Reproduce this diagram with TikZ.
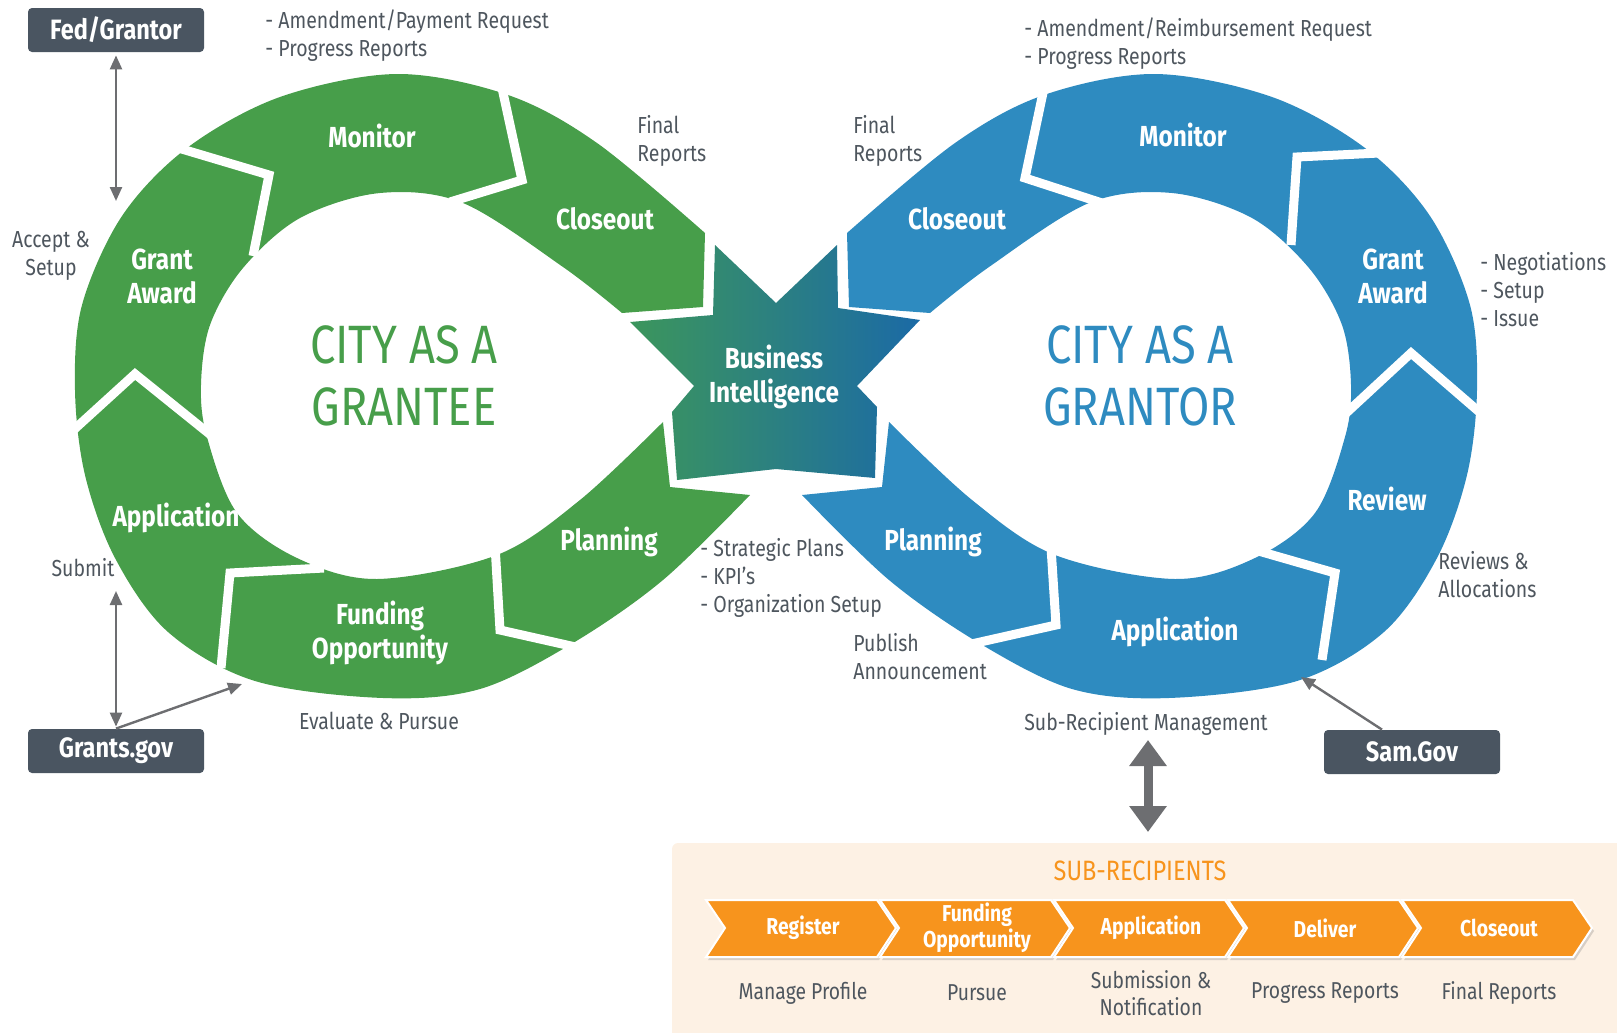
\documentclass[tikz,border=0pt]{standalone}
\usepackage{fontspec}
\setmainfont[FakeStretch=0.84]{Fira Sans}
\usetikzlibrary{arrows.meta,shadows}

\definecolor{grantee}{RGB}{71,158,74}
\definecolor{grantor}{RGB}{46,139,192}
\definecolor{bigreen}{RGB}{60,150,92}
\definecolor{biblue}{RGB}{27,106,166}
\definecolor{slate}{RGB}{74,85,97}
\definecolor{notegray}{RGB}{78,86,94}
\definecolor{arrowgray}{RGB}{109,110,113}
\definecolor{suborange}{RGB}{247,148,29}
\definecolor{subpanel}{RGB}{253,241,228}

\tikzset{
    seg/.style={text=white, font=\bfseries\fontsize{14.5}{17}\selectfont, align=center, inner sep=0},
    city/.style={font=\fontsize{27}{31}\selectfont, align=center, inner sep=0},
    note/.style={text=notegray, font=\fontsize{11.6}{14}\selectfont, align=left, inner sep=0},
    sep/.style={draw=white, line width=4.5pt},
    portal/.style={fill=slate, rounded corners=2pt, text=white, inner sep=0,
        font=\bfseries\fontsize{14}{16}\selectfont, minimum width=88pt, minimum height=22pt},
    link/.style={draw=arrowgray, line width=1.2pt, >={Triangle[width=6pt,length=7pt]}},
    bigarrow/.style={draw=arrowgray, line width=4.5pt, >={Triangle[width=18pt,length=13pt]}},
    chevron/.style={fill=suborange, draw=white, line width=1pt,
        drop shadow={opacity=0.3, shadow xshift=1pt, shadow yshift=-1.5pt}},
    chevlbl/.style={text=white, font=\bfseries\fontsize{11.5}{9.5}\selectfont, align=center, inner sep=0},
    sublbl/.style={text=notegray, font=\fontsize{11.5}{13.5}\selectfont, align=center, inner sep=0},
}

\newcommand{\loopband}{plot[smooth, tension=.55] coordinates {(705,233) (597,143) (508,95)
    (397,74) (280,97) (187,148) (122,216) (82,305) (75,390) (85,475) (115,558) (168,632)
    (255,681) (383,698) (480,689) (573,643) (663,580) (750,495)}
    -- (670,487) -- (663,422)
    -- plot[smooth, tension=.55] coordinates {(663,422) (580,500) (497,555) (377,579) (297,558)
    (237,513) (207,437) (201,385) (210,325) (243,268) (300,218) (380,193) (463,203) (563,267)
    (622,313)}
    -- (703,307) -- cycle}

\begin{document}
\begin{tikzpicture}[x=0.5pt, y=-0.5pt]
    \useasboundingbox (0,0) rectangle (1617,1033);

    \fill[grantee] \loopband;
    \begin{scope}[shift={(1552,0)}, xscale=-1]
        \fill[grantor] \loopband;
    \end{scope}

    \draw[sep] (175,147) -- (269,175) -- (253,256);
    \draw[sep] (502,88) -- (522,180) -- (450,202);
    \draw[sep] (68,435) -- (135,374) -- (212,436);
    \draw[sep] (221,668) -- (230,573) -- (324,568);
    \draw[sep] (495,545) -- (500,630) -- (580,648);

    \draw[sep] (1044,88) -- (1025,178) -- (1102,203);
    \draw[sep] (1400,152) -- (1297,157) -- (1291,245);
    \draw[sep] (1343,416) -- (1411,353) -- (1484,416);
    \draw[sep] (1255,550) -- (1335,573) -- (1322,660);
    \draw[sep] (1051,547) -- (1056,625) -- (967,645);

    \shade[left color=bigreen, right color=biblue] (715,245) -- (776,303) -- (837,245) -- (838,308)
        -- (920,320) -- (857,386) -- (877,407) -- (875,478) -- (776,469) -- (677,480) -- (672,412)
        -- (694,386) -- (630,322) -- (713,315) -- cycle;
    \node[seg] (bi) at (774,377) {Business\\Intelligence};

    \node[seg] (gteemonitor) at (372,136) {Monitor};
    \node[seg] (gteecloseout) at (605,219) {Closeout};
    \node[seg] (gteeaward) at (162,276) {Grant\\Award};
    \node[seg] (gteeapp) at (176,518) {Application};
    \node[seg] (gteefunding) at (380,633) {Funding\\Opportunity};
    \node[seg] (gteeplanning) at (609,542) {Planning};
    \node[city, text=grantee] (grantee) at (404,376) {CITY AS A\\GRANTEE};

    \node[seg] (gtorcloseout) at (957,219) {Closeout};
    \node[seg] (gtormonitor) at (1183,135) {Monitor};
    \node[seg] (gtoraward) at (1393,276) {Grant\\Award};
    \node[seg] (gtorreview) at (1387,499) {Review};
    \node[seg] (gtorapp) at (1175,632) {Application};
    \node[seg] (gtorplanning) at (933,542) {Planning};
    \node[city, text=grantor] (grantor) at (1140,376) {CITY AS A\\GRANTOR};

    \node[note, anchor=west] (gteereq) at (265,36) {- Amendment/Payment Request\\- Progress Reports};
    \node[note, anchor=west] (gteefinal) at (637,141) {Final\\Reports};
    \node[note, align=center] (accept) at (51,256) {Accept \&\\Setup};
    \node[note] (submit) at (83,568) {Submit};
    \node[note] (evaluate) at (379,721) {Evaluate \& Pursue};
    \node[note, anchor=west] (strategic) at (700,578) {- Strategic Plans\\- KPI's\\- Organization Setup};
    \node[note, anchor=west] (publish) at (853,657) {Publish\\Announcement};
    \node[note, anchor=west] (gtorfinal) at (853,141) {Final\\Reports};
    \node[note, anchor=west] (gtorreq) at (1024,44) {- Amendment/Reimbursement Request\\- Progress Reports};
    \node[note, anchor=west] (negotiate) at (1480,290) {- Negotiations\\- Setup\\- Issue};
    \node[note, anchor=west] (allocate) at (1438,575) {Reviews \&\\Allocations};
    \node[note] (mgmt) at (1146,724) {Sub-Recipient Management};

    \node[portal] (fed) at (116,30) {Fed/Grantor};
    \node[portal] (grants) at (116,751) {Grants.gov};
    \node[portal] (sam) at (1412,752) {Sam.Gov};

    \coordinate (fedtip) at (116,201);
    \coordinate (submittip) at (116,591);
    \coordinate (evaltip) at (242,684);
    \coordinate (samtip) at (1301,677);
    \coordinate (mgmtup) at (1148,740);
    \coordinate (mgmtdown) at (1148,832);

    \draw[link, <->, shorten <=1.5pt] (fed.south) -- (fedtip);
    \draw[link, <->, shorten <=1pt] (grants.north) -- (submittip);
    \draw[link, ->] (grants.north) -- (evaltip);
    \draw[link, ->] ([xshift=-15pt]sam.north) -- (samtip);
    \draw[bigarrow, <->] (mgmtup) -- (mgmtdown);

    \fill[subpanel, rounded corners=3pt] (672,843) rectangle (1640,1060);
    \node[text=suborange, font=\fontsize{14}{16}\selectfont] (subtitle) at (1140,871) {SUB-RECIPIENTS};

    \foreach \stage/\sub [count=\i from 0] in {Register/Manage Profile, {Funding\\Opportunity}/Pursue,
        Application/{Submission \&\\Notification}, Deliver/Progress Reports, Closeout/Final Reports} {
        \pgfmathsetmacro\L{706+174*\i}
        \fill[chevron] (\L,900) -- ++(171,0) -- ++(19,28) -- ++(-19,29) -- ++(-171,0) -- ++(19,-29) -- cycle;
        \node[chevlbl] (stage\i) at (\L+97,928) {\stage};
        \node[sublbl] (sub\i) at (\L+97,993) {\sub};
    }
\end{tikzpicture}
\end{document}
